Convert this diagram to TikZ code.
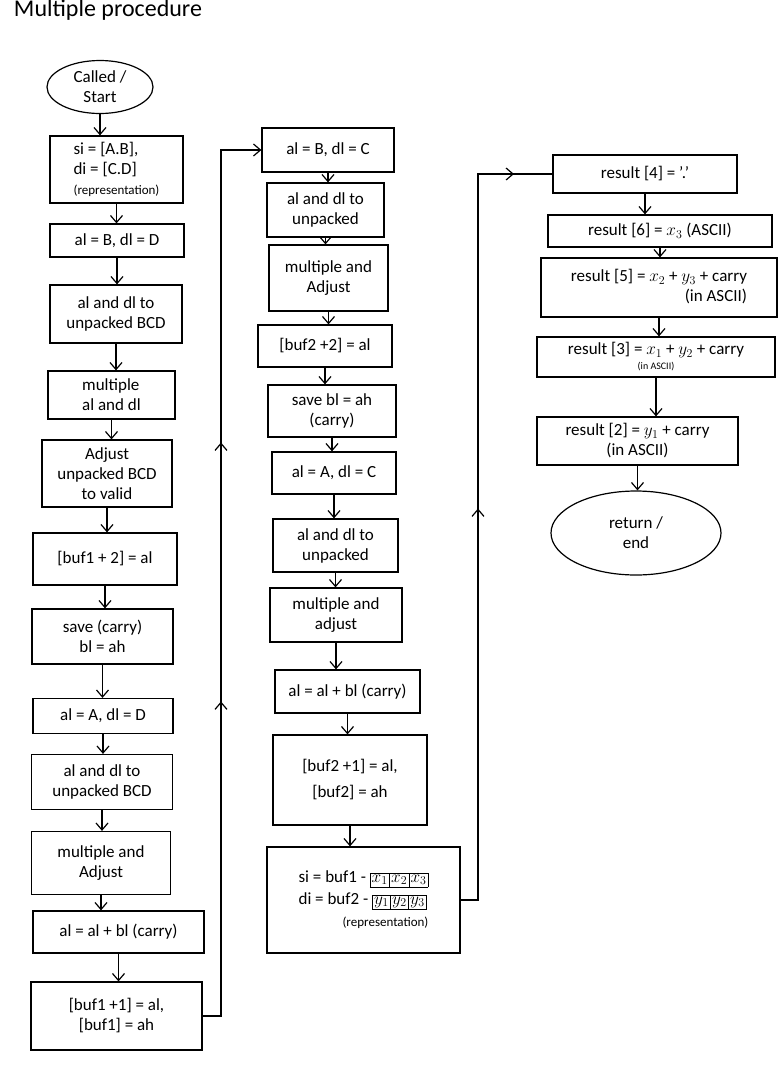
\documentclass[tikz,border=0pt]{standalone}
\usepackage{fontspec}
\setmainfont{Carlito}
\usetikzlibrary{arrows.meta,decorations.markings,shapes.geometric}
\newcommand\cellrow[3]{{\setlength\fboxsep{1.5pt}\fbox{$\vphantom{y_1}#1$}\kern-\fboxrule\fbox{$\vphantom{y_1}#2$}\kern-\fboxrule\fbox{$\vphantom{y_1}#3$}}}
\newcommand\notetxt{\fontsize{13}{15}\selectfont}
\newcommand\tinytxt{\fontsize{10}{11}\selectfont}

\begin{document}
\begin{tikzpicture}[x=1pt,y=-1pt,font=\fontsize{17}{20}\selectfont,line width=1.2pt,
     >={Straight Barb[length=7pt,width=12pt]},
     proc/.style={draw,inner sep=2pt,align=center},
     term/.style={draw,ellipse,inner sep=1pt,align=center},
     flow/.style={->}]
    \useasboundingbox (0,0) rectangle (783,1080);
    \node[font=\fontsize{24}{26}\selectfont](title) at (108,10){Multiple procedure};
    % first column
    \node[term,minimum width=106,minimum height=53](a0) at (100,87){Called /\\ Start};
    \node[proc,align=left,minimum width=133,minimum height=67](a1) at (116.5,169.5){si = [A.B],\\ di = [C.D]\\ {\notetxt(representation)}};
    \node[proc,minimum width=134,minimum height=33](a2) at (117,240.5){al = B, dl = D};
    \node[proc,minimum width=132,minimum height=58](a3) at (116,314){al and dl to\\ unpacked BCD};
    \node[proc,align=left,minimum width=127,minimum height=48](a4) at (111.5,395){multiple\\ al and dl};
    \node[proc,minimum width=130,minimum height=67](a5) at (107,473.5){Adjust\\ unpacked BCD\\ to valid};
    \node[proc,minimum width=144,minimum height=52](a6) at (105,559){[buf1 + 2] = al};
    \node[proc,minimum width=141,minimum height=55](a7) at (102.5,636.5){save (carry)\\ bl = ah};
    \node[proc,minimum width=140,minimum height=35](a8) at (103,716){al = A, dl = D};
    \node[proc,minimum width=141,minimum height=55](a9) at (102,782){al and dl to\\ unpacked BCD};
    \node[proc,minimum width=139,minimum height=63](a10) at (101,863){multiple and\\ Adjust};
    \node[proc,minimum width=171,minimum height=42](a11) at (118.5,932){al = al + bl (carry)};
    \node[proc,minimum width=171,minimum height=68](a12) at (116.5,1016){[buf1 +1] = al,\\ {[buf1] = ah}};
    % second column
    \node[proc,minimum width=132,minimum height=44](b1) at (328,150){al = B, dl = C};
    \node[proc,minimum width=117,minimum height=54](b2) at (325.5,210){al and dl to\\ unpacked};
    \node[proc,minimum width=119,minimum height=66](b3) at (328.5,278){multiple and\\ Adjust};
    \node[proc,minimum width=134,minimum height=42](b4) at (325,346){[buf2 +2] = al};
    \node[proc,minimum width=128,minimum height=52](b5) at (332,411){save bl = ah\\ (carry)};
    \node[proc,minimum width=124,minimum height=42](b6) at (334,473){al = A, dl = C};
    \node[proc,minimum width=125,minimum height=53](b7) at (335.5,545.5){al and dl to\\ unpacked};
    \node[proc,minimum width=132,minimum height=54](b8) at (336,615){multiple and\\ adjust};
    \node[proc,minimum width=145,minimum height=43](b9) at (347.5,691.5){al = al + bl (carry)};
    \node[proc,minimum width=154,minimum height=90](b10) at (350,780){[buf2 +1] = al,\\[6pt] {[buf2] = ah}};
    \node[proc,minimum width=193,minimum height=106](b11) at (363.5,900){\begin{tabular}{@{}l@{}}si = buf1 - \cellrow{x_1}{x_2}{x_3}\\[2pt] di = buf2 - \cellrow{y_1}{y_2}{y_3}\\[2pt] \multicolumn{1}{@{}r@{}}{\notetxt(representation)}\end{tabular}};
    % third column
    \node[proc,minimum width=184,minimum height=38](c1) at (645,174){result [4] = '.'};
    \node[proc,minimum width=224,minimum height=32](c2) at (660,231){result [6] = $x_3$ (ASCII)};
    \node[proc,minimum width=236,minimum height=59](c3) at (659,287.5){\begin{tabular}{@{}l@{}}result [5] = $x_2$ + $y_3$ + carry\\ \multicolumn{1}{@{}r@{}}{(in ASCII)\quad}\end{tabular}};
    \node[proc,minimum width=238,minimum height=40](c4) at (656,357){result [3] = $x_1$ + $y_2$ + carry\\[-5pt] {\tinytxt(in ASCII)}};
    \node[proc,minimum width=201,minimum height=48](c5) at (637.5,441){result [2] = $y_1$ + carry\\ (in ASCII)};
    \node[term,minimum width=170,minimum height=84](c6) at (636,533){return /\\ end};
    \coordinate (lpA) at (221,0);
    \coordinate (lpB) at (478,0);
    \foreach \a/\b in {a0/a1,a1/a2,a2/a3,a3/a4,a4/a5,a5/a6,a6/a7,a7/a8,a8/a9,a9/a10,a10/a11,a11/a12,
      b1/b2,b2/b3,b3/b4,b4/b5,b5/b6,b6/b7,b7/b8,b8/b9,b9/b10,b10/b11,
      c1/c2,c2/c3,c3/c4,c4/c5,c5/c6}{\draw[flow](\a.south)--(\a.south |- \b.north);}
    \draw[flow,postaction={decorate},decoration={markings,mark=at position .36 with {\arrow{>}},
      mark=at position .64 with {\arrow{>}}}]
      (a12.east)--(lpA |- a12.east)--(lpA |- b1.west)--(b1.west);
    \draw[postaction={decorate},decoration={markings,mark=at position .5 with {\arrow{>}},
      mark=at position .953 with {\arrow{>}}}]
      (b11.east)--(lpB |- b11.east)--(lpB |- c1.west)--(c1.west);
  \end{tikzpicture}
\end{document}
